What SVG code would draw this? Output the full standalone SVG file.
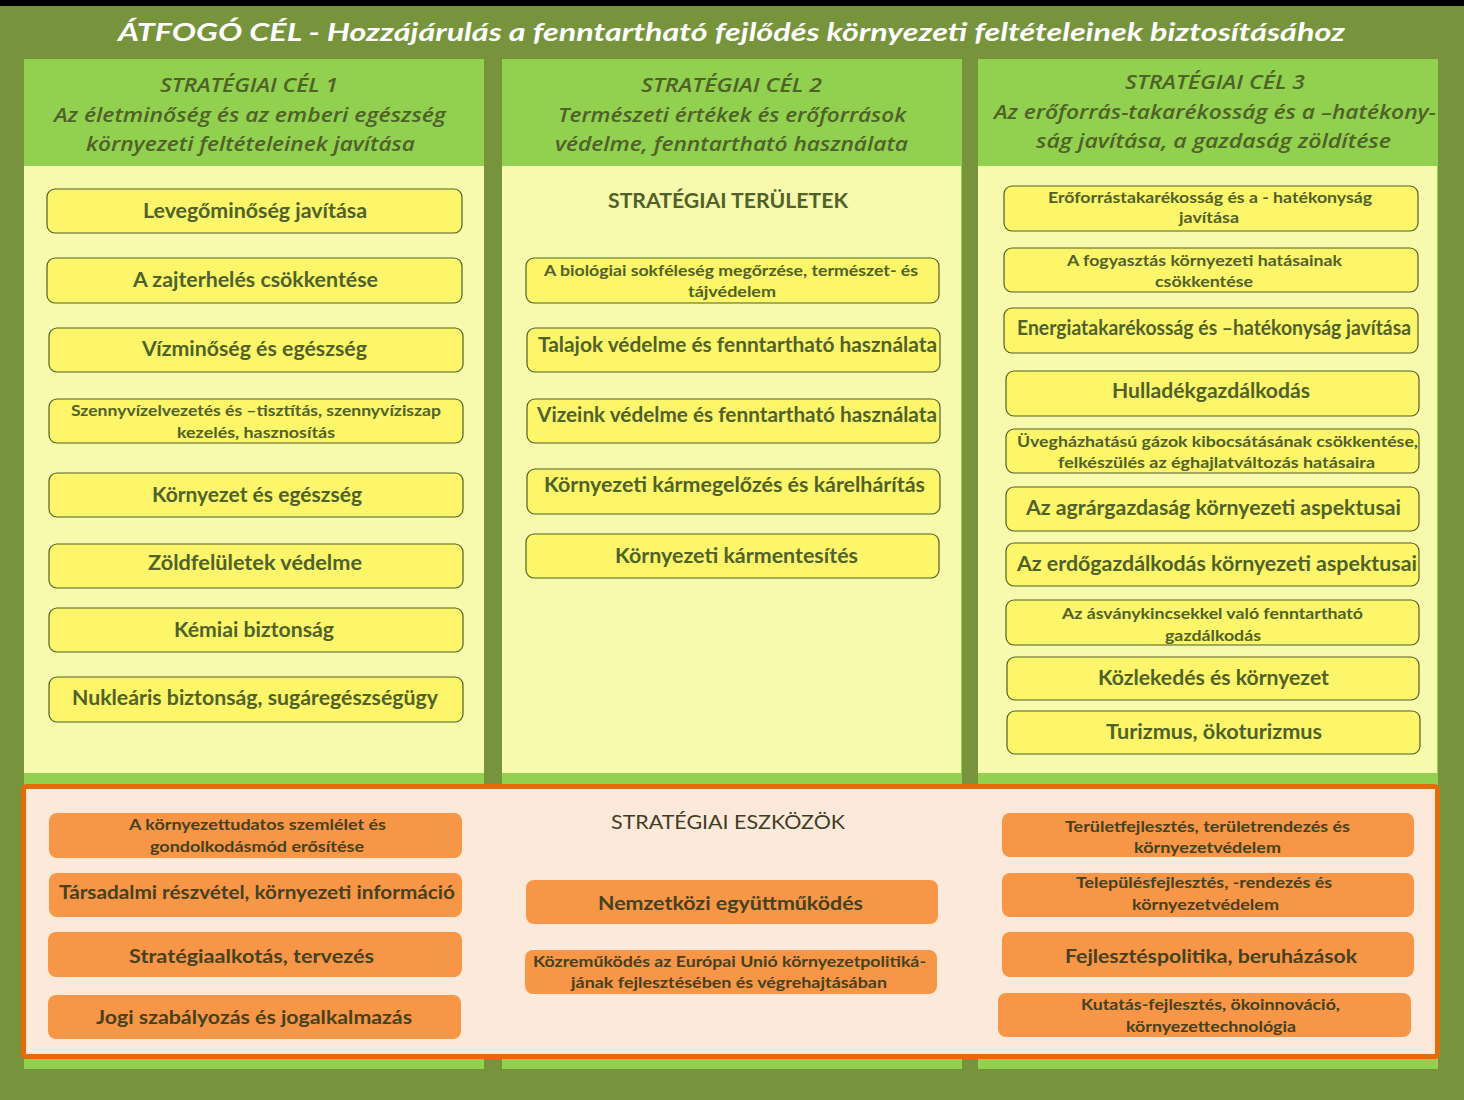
<svg xmlns="http://www.w3.org/2000/svg" width="1464" height="1100" viewBox="0 0 1464 1100">
<style>
text{font-family:Lato,"Liberation Sans","DejaVu Sans",sans-serif;text-anchor:middle}
.t{fill:#fff;font-weight:bold;font-style:italic;font-size:25px}
.h{fill:#4F6228;font-family:"Open Sans",Lato,sans-serif;font-weight:600;font-style:italic;font-size:19px}
.y{fill:#FDF56A;stroke:#4F6228;stroke-width:1.2}
.o{fill:#F79646}
.yt{fill:#4F6228;font-weight:bold;font-size:20px}
.ys{fill:#4F6228;font-weight:bold;font-size:16px}
.ot{fill:#46411F;font-weight:bold;font-size:18.5px}
.os{fill:#46411F;font-weight:bold;font-size:15.5px}
.col{fill:#92D050}
.pale{fill:#F7F9AD}
</style>
<rect x="0" y="0" width="1464" height="1100" fill="#77933C"/>
<rect x="0" y="0" width="1464" height="6" fill="#000"/>
<text class="t" x="731.5" y="41" textLength="1227" lengthAdjust="spacingAndGlyphs">ÁTFOGÓ CÉL - Hozzájárulás a fenntartható  fejlődés környezeti feltételeinek biztosításához</text>

<g id="cel1">
<rect class="col" x="24" y="59" width="460" height="1010"/>
<rect class="pale" x="24" y="166" width="460" height="607"/>
<text class="h" x="249" y="92" textLength="178" lengthAdjust="spacingAndGlyphs">STRATÉGIAI CÉL 1</text>
<text class="h" x="250" y="122" textLength="392" lengthAdjust="spacingAndGlyphs">Az életminőség és az emberi egészség</text>
<text class="h" x="250.5" y="151" textLength="329" lengthAdjust="spacingAndGlyphs">környezeti feltételeinek javítása</text>
</g>
<g id="cel2">
<rect class="col" x="502" y="59" width="460" height="1010"/>
<rect class="pale" x="502" y="166" width="459" height="607"/>
<text class="h" x="731.5" y="92" textLength="181" lengthAdjust="spacingAndGlyphs">STRATÉGIAI CÉL 2</text>
<text class="h" x="732" y="122" textLength="348" lengthAdjust="spacingAndGlyphs">Természeti értékek és erőforrások</text>
<text class="h" x="731.5" y="151" textLength="353" lengthAdjust="spacingAndGlyphs">védelme, fenntartható használata</text>
<text x="728" y="208" fill="#4F6228" font-weight="bold" font-size="21" textLength="240" lengthAdjust="spacingAndGlyphs">STRATÉGIAI TERÜLETEK</text>
</g>
<g id="cel3">
<rect class="col" x="978" y="59" width="460" height="1010"/>
<rect class="pale" x="978" y="166" width="459" height="607"/>
<text class="h" x="1215" y="89" textLength="180" lengthAdjust="spacingAndGlyphs">STRATÉGIAI CÉL 3</text>
<text class="h" x="1215" y="119" textLength="442" lengthAdjust="spacingAndGlyphs">Az erőforrás-takarékosság és a –hatékony-</text>
<text class="h" x="1213.5" y="148" textLength="355" lengthAdjust="spacingAndGlyphs">ság javítása, a gazdaság zöldítése</text>
</g>

<g id="c1-1"><rect class="y" x="47" y="189" width="415" height="44" rx="8"/><text class="yt" x="255" y="218" textLength="224" lengthAdjust="spacingAndGlyphs">Levegőminőség javítása</text></g>
<g id="c1-2"><rect class="y" x="47" y="258" width="415" height="45" rx="8"/><text class="yt" x="255.5" y="287" textLength="245" lengthAdjust="spacingAndGlyphs">A zajterhelés csökkentése</text></g>
<g id="c1-3"><rect class="y" x="49" y="328" width="414" height="44" rx="8"/><text class="yt" x="254.5" y="356" textLength="225" lengthAdjust="spacingAndGlyphs">Vízminőség és egészség</text></g>
<g id="c1-4"><rect class="y" x="49" y="399" width="414" height="44" rx="8"/><text class="ys" x="256" y="416" textLength="370" lengthAdjust="spacingAndGlyphs">Szennyvízelvezetés és –tisztítás, szennyvíziszap</text><text class="ys" x="256" y="438" textLength="158" lengthAdjust="spacingAndGlyphs">kezelés, hasznosítás</text></g>
<g id="c1-5"><rect class="y" x="49" y="473" width="414" height="44" rx="8"/><text class="yt" x="257" y="502" textLength="210" lengthAdjust="spacingAndGlyphs">Környezet és egészség</text></g>
<g id="c1-6"><rect class="y" x="49" y="544" width="414" height="44" rx="8"/><text class="yt" x="255" y="570" textLength="214" lengthAdjust="spacingAndGlyphs">Zöldfelületek védelme</text></g>
<g id="c1-7"><rect class="y" x="49" y="608" width="414" height="44" rx="8"/><text class="yt" x="254" y="637" textLength="160" lengthAdjust="spacingAndGlyphs">Kémiai biztonság</text></g>
<g id="c1-8"><rect class="y" x="49" y="677" width="414" height="45" rx="8"/><text class="yt" x="255" y="705" textLength="366" lengthAdjust="spacingAndGlyphs">Nukleáris biztonság, sugáregészségügy</text></g>

<g id="c2-1"><rect class="y" x="526" y="258" width="413" height="45" rx="8"/><text class="ys" x="731" y="276" textLength="374" lengthAdjust="spacingAndGlyphs">A biológiai sokféleség megőrzése, természet- és</text><text class="ys" x="732" y="297" textLength="88" lengthAdjust="spacingAndGlyphs">tájvédelem</text></g>
<g id="c2-2"><rect class="y" x="527" y="328" width="413" height="44" rx="8"/><text class="yt" x="737.5" y="352" textLength="399" lengthAdjust="spacingAndGlyphs">Talajok védelme és fenntartható használata</text></g>
<g id="c2-3"><rect class="y" x="527" y="399" width="413" height="44" rx="8"/><text class="yt" x="737" y="422" textLength="400" lengthAdjust="spacingAndGlyphs">Vizeink védelme és fenntartható használata</text></g>
<g id="c2-4"><rect class="y" x="527" y="469" width="413" height="45" rx="8"/><text class="yt" x="734.5" y="492" textLength="381" lengthAdjust="spacingAndGlyphs">Környezeti kármegelőzés és kárelhárítás</text></g>
<g id="c2-5"><rect class="y" x="526" y="534" width="413" height="44" rx="8"/><text class="yt" x="736.5" y="563" textLength="243" lengthAdjust="spacingAndGlyphs">Környezeti kármentesítés</text></g>

<g id="c3-1"><rect class="y" x="1004" y="186" width="414" height="45" rx="8"/><text class="ys" x="1210" y="203" textLength="324" lengthAdjust="spacingAndGlyphs">Erőforrástakarékosság és a  - hatékonyság</text><text class="ys" x="1209" y="223" textLength="60" lengthAdjust="spacingAndGlyphs">javítása</text></g>
<g id="c3-2"><rect class="y" x="1004" y="248" width="414" height="44" rx="8"/><text class="ys" x="1204.5" y="266" textLength="275" lengthAdjust="spacingAndGlyphs">A fogyasztás környezeti hatásainak</text><text class="ys" x="1204" y="287" textLength="98" lengthAdjust="spacingAndGlyphs">csökkentése</text></g>
<g id="c3-3"><rect class="y" x="1004" y="308" width="414" height="45" rx="8"/><text class="yt" x="1214" y="335" font-size="18.5" textLength="394" lengthAdjust="spacingAndGlyphs">Energiatakarékosság  és –hatékonyság  javítása</text></g>
<g id="c3-4"><rect class="y" x="1006" y="371" width="413" height="45" rx="8"/><text class="yt" x="1211" y="398" textLength="198" lengthAdjust="spacingAndGlyphs">Hulladékgazdálkodás</text></g>
<g id="c3-5"><rect class="y" x="1006" y="429" width="413" height="44" rx="8"/><text class="ys" x="1217.5" y="447" font-size="17" textLength="401" lengthAdjust="spacingAndGlyphs">Üvegházhatású gázok kibocsátásának csökkentése,</text><text class="ys" x="1216.5" y="468" font-size="17" textLength="317" lengthAdjust="spacingAndGlyphs">felkészülés az éghajlatváltozás hatásaira</text></g>
<g id="c3-6"><rect class="y" x="1006" y="487" width="413" height="44" rx="8"/><text class="yt" x="1213.5" y="515" textLength="375" lengthAdjust="spacingAndGlyphs">Az agrárgazdaság  környezeti aspektusai</text></g>
<g id="c3-7"><rect class="y" x="1006" y="543" width="413" height="43" rx="8"/><text class="yt" x="1217" y="571" textLength="400" lengthAdjust="spacingAndGlyphs">Az erdőgazdálkodás  környezeti aspektusai</text></g>
<g id="c3-8"><rect class="y" x="1006" y="600" width="413" height="45" rx="8"/><text class="ys" x="1212.5" y="619" textLength="301" lengthAdjust="spacingAndGlyphs">Az ásványkincsekkel való fenntartható</text><text class="ys" x="1213" y="641" textLength="96" lengthAdjust="spacingAndGlyphs">gazdálkodás</text></g>
<g id="c3-9"><rect class="y" x="1007" y="657" width="412" height="43" rx="8"/><text class="yt" x="1213.5" y="685" textLength="231" lengthAdjust="spacingAndGlyphs">Közlekedés és környezet</text></g>
<g id="c3-10"><rect class="y" x="1007" y="711" width="413" height="43" rx="8"/><text class="yt" x="1214" y="739" textLength="216" lengthAdjust="spacingAndGlyphs">Turizmus, ökoturizmus</text></g>

<g id="eszkozok">
<rect x="23.5" y="786.5" width="1414" height="270" rx="3" fill="#FDE9D9" stroke="#E36C09" stroke-width="5"/>
<text x="728" y="829" fill="#3F3D26" font-size="20" textLength="234" lengthAdjust="spacingAndGlyphs">STRATÉGIAI ESZKÖZÖK</text>
</g>
<g id="e-1"><rect class="o" x="49" y="813" width="413" height="45" rx="8"/><text class="os" x="257.5" y="830" textLength="257" lengthAdjust="spacingAndGlyphs">A környezettudatos szemlélet és</text><text class="os" x="257" y="852" textLength="214" lengthAdjust="spacingAndGlyphs">gondolkodásmód erősítése</text></g>
<g id="e-2"><rect class="o" x="49" y="873" width="413" height="44" rx="8"/><text class="ot" x="257" y="899" textLength="396" lengthAdjust="spacingAndGlyphs">Társadalmi részvétel, környezeti információ</text></g>
<g id="e-3"><rect class="o" x="48" y="932" width="414" height="45" rx="8"/><text class="ot" x="251.5" y="963" textLength="245" lengthAdjust="spacingAndGlyphs">Stratégiaalkotás, tervezés</text></g>
<g id="e-4"><rect class="o" x="48" y="995" width="413" height="44" rx="8"/><text class="ot" x="254" y="1024" textLength="316" lengthAdjust="spacingAndGlyphs">Jogi szabályozás és jogalkalmazás</text></g>
<g id="e-5"><rect class="o" x="526" y="880" width="412" height="44" rx="8"/><text class="ot" x="730.5" y="910" textLength="265" lengthAdjust="spacingAndGlyphs">Nemzetközi együttműködés</text></g>
<g id="e-6"><rect class="o" x="525" y="950" width="412" height="44" rx="8"/><text class="os" x="729.5" y="967" textLength="393" lengthAdjust="spacingAndGlyphs">Közreműködés az Európai Unió környezetpolitiká-</text><text class="os" x="729" y="988" textLength="316" lengthAdjust="spacingAndGlyphs">jának fejlesztésében és végrehajtásában</text></g>
<g id="e-7"><rect class="o" x="1002" y="813" width="412" height="44" rx="8"/><text class="os" x="1207.5" y="832" textLength="285" lengthAdjust="spacingAndGlyphs">Területfejlesztés, területrendezés és</text><text class="os" x="1207.5" y="853" textLength="147" lengthAdjust="spacingAndGlyphs">környezetvédelem</text></g>
<g id="e-8"><rect class="o" x="1002" y="873" width="412" height="44" rx="8"/><text class="os" x="1204" y="888" textLength="256" lengthAdjust="spacingAndGlyphs">Településfejlesztés, -rendezés és</text><text class="os" x="1205.5" y="910" textLength="147" lengthAdjust="spacingAndGlyphs">környezetvédelem</text></g>
<g id="e-9"><rect class="o" x="1002" y="932" width="412" height="45" rx="8"/><text class="ot" x="1211" y="963" textLength="292" lengthAdjust="spacingAndGlyphs">Fejlesztéspolitika, beruházások</text></g>
<g id="e-10"><rect class="o" x="998" y="993" width="413" height="44" rx="8"/><text class="os" x="1210.5" y="1010" textLength="259" lengthAdjust="spacingAndGlyphs">Kutatás-fejlesztés, ökoinnováció,</text><text class="os" x="1211" y="1032" textLength="170" lengthAdjust="spacingAndGlyphs">környezettechnológia</text></g>
</svg>
